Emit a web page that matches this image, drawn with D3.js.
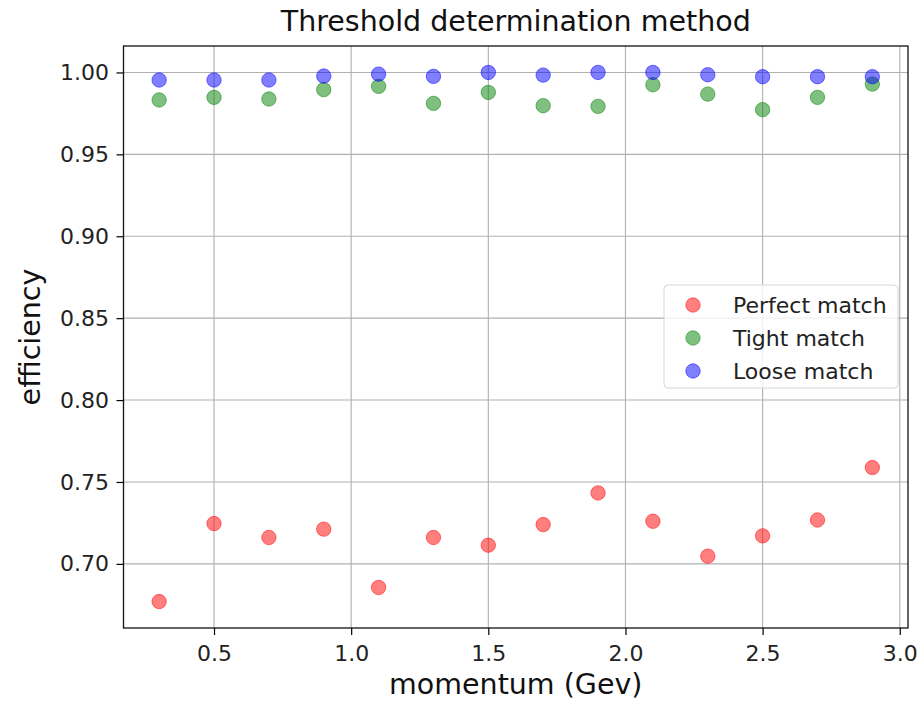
<!DOCTYPE html>
<html>
<head>
<meta charset="utf-8">
<script src="https://cdn.jsdelivr.net/npm/d3@7"></script>
<style>
  body { margin: 0; background: #fff; }
  svg { font-family: "DejaVu Sans", sans-serif; }
</style>
</head>
<body>
<svg id="chart" width="921" height="701"></svg>
<script>
// momentum values (GeV)
const momentum = [0.3, 0.5, 0.7, 0.9, 1.1, 1.3, 1.5, 1.7, 1.9, 2.1, 2.3, 2.5, 2.7, 2.9];

const perfectMatch = [0.677, 0.7246, 0.7161, 0.7212, 0.6856, 0.7161, 0.7114, 0.724, 0.7433, 0.726, 0.7047, 0.7171, 0.7268, 0.7588];
const tightMatch = [0.9832, 0.9848, 0.9838, 0.9895, 0.9915, 0.9811, 0.9878, 0.9797, 0.9793, 0.9925, 0.9868, 0.9773, 0.9848, 0.9929];
const looseMatch = [0.9954, 0.9954, 0.9954, 0.9978, 0.999, 0.9976, 1.0, 0.9984, 1.0, 1.0, 0.9986, 0.9974, 0.9974, 0.9974];

const seriesNames = ['Perfect match', 'Tight match', 'Loose match'];
const seriesColors = ['#ff0000', '#008000', '#0000ff'];
const xTicks = [0.5, 1.0, 1.5, 2.0, 2.5, 3.0];
const yTicks = [0.70, 0.75, 0.80, 0.85, 0.90, 0.95, 1.00];

const series = [perfectMatch, tightMatch, looseMatch].map((vals, i) => ({
  name: seriesNames[i],
  color: seriesColors[i],
  points: vals.map((v, j) => ({ x: momentum[j], y: v }))
}));

const margin = { top: 46, right: 13, bottom: 73, left: 123.5 };
const width = 921, height = 701;
const innerW = width - margin.left - margin.right;
const innerH = height - margin.top - margin.bottom;

const svg = d3.select('#chart');
const g = svg.append('g').attr('transform', `translate(${margin.left},${margin.top})`);

// matplotlib-style 5% padding
const allY = perfectMatch.concat(tightMatch, looseMatch);
const xExt = d3.extent(momentum), yExt = d3.extent(allY);
const xPad = (xExt[1] - xExt[0]) * 0.05, yPad = (yExt[1] - yExt[0]) * 0.05;

const x = d3.scaleLinear().domain([xExt[0] - xPad, xExt[1] + xPad]).range([0, innerW]);
const y = d3.scaleLinear().domain([yExt[0] - yPad, yExt[1] + yPad]).range([innerH, 0]);

// grid
g.append('g').attr('class', 'grid')
  .selectAll('line').data(xTicks).join('line')
  .attr('x1', d => x(d)).attr('x2', d => x(d))
  .attr('y1', 0).attr('y2', innerH)
  .attr('stroke', '#b0b0b0').attr('stroke-width', 1.1);
g.append('g').attr('class', 'grid')
  .selectAll('line').data(yTicks).join('line')
  .attr('y1', d => y(d)).attr('y2', d => y(d))
  .attr('x1', 0).attr('x2', innerW)
  .attr('stroke', '#b0b0b0').attr('stroke-width', 1.1);

// points
series.forEach(s => {
  g.append('g').selectAll('circle').data(s.points).join('circle')
    .attr('cx', d => x(d.x))
    .attr('cy', d => y(d.y))
    .attr('r', 7.2)
    .attr('fill', s.color)
    .attr('fill-opacity', 0.5)
    .attr('stroke', s.color)
    .attr('stroke-opacity', 0.5)
    .attr('stroke-width', 1);
});

// axes
const xAxis = g.append('g').attr('transform', `translate(0,${innerH})`)
  .call(d3.axisBottom(x).tickValues(xTicks).tickFormat(d3.format('.1f')).tickSize(7).tickPadding(10));
const yAxis = g.append('g')
  .call(d3.axisLeft(y).tickValues(yTicks).tickFormat(d3.format('.2f')).tickSize(7).tickPadding(7.5));
[xAxis, yAxis].forEach(a => {
  a.select('.domain').remove();
  a.selectAll('line').attr('stroke', '#000').attr('stroke-width', 1.2);
  a.selectAll('text').attr('font-size', 22).attr('fill', '#222')
    .attr('font-family', '"DejaVu Sans", sans-serif');
});

// frame
g.append('rect').attr('width', innerW).attr('height', innerH)
  .attr('fill', 'none').attr('stroke', '#111').attr('stroke-width', 1.3);

// title & labels
svg.append('text').attr('x', margin.left + innerW / 2).attr('y', 31)
  .attr('text-anchor', 'middle').attr('font-size', 28.5).attr('fill', '#111')
  .text('Threshold determination method');
svg.append('text').attr('x', margin.left + innerW / 2).attr('y', 694)
  .attr('text-anchor', 'middle').attr('font-size', 28.5).attr('fill', '#111')
  .text('momentum (Gev)');
svg.append('text')
  .attr('transform', `translate(40,${margin.top + innerH / 2}) rotate(-90)`)
  .attr('text-anchor', 'middle').attr('font-size', 28.5).attr('fill', '#111')
  .text('efficiency');

// legend
const legend = svg.append('g').attr('transform', 'translate(664,285)');
legend.append('rect').attr('width', 234).attr('height', 103).attr('rx', 4)
  .attr('fill', '#fff').attr('fill-opacity', 0.8)
  .attr('stroke', '#d6d6d6').attr('stroke-width', 1);
const rows = legend.selectAll('g.row').data(series).join('g')
  .attr('transform', (d, i) => `translate(0,${20 + i * 33})`);
rows.append('circle').attr('cx', 29).attr('cy', 0).attr('r', 7.2)
  .attr('fill', d => d.color).attr('fill-opacity', 0.5)
  .attr('stroke', d => d.color).attr('stroke-opacity', 0.5);
rows.append('text').attr('x', 69).attr('y', 0).attr('dy', '0.35em')
  .attr('font-size', 22).attr('fill', '#222')
  .text(d => d.name);
</script>
</body>
</html>
